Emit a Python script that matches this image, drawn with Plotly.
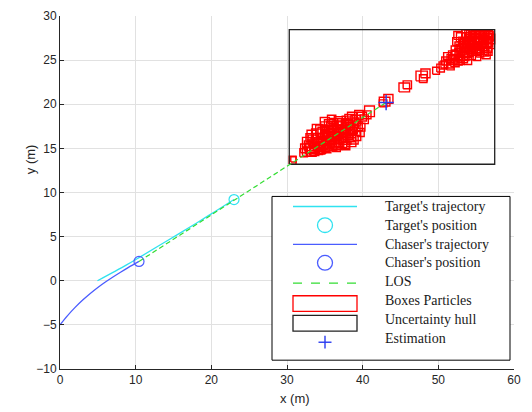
import plotly.graph_objects as go

# ---------------- data ----------------
target_x = [4.95, 8.8, 10.6, 14.0, 18.06, 20.5, 23.0]
target_y = [0.0, 1.8, 2.7, 4.45, 6.55, 7.85, 9.2]
target_pos = (23.0, 9.2)

chaser_x = [0.0, 1.0, 2.0, 3.0, 4.0, 5.0, 6.0, 7.0, 8.0, 9.0, 10.44]
chaser_y = [-5.0, -3.95, -3.02, -2.19, -1.44, -0.76, -0.14, 0.43, 0.97, 1.49, 2.19]
chaser_pos = (10.44, 2.19)

estimation = (43.1, 20.2)
los_x = [10.44, 43.1]
los_y = [2.19, 20.2]

box_cx = [30.75, 30.85, 32.6, 32.9, 33.2, 33.5, 33.7, 34.0, 34.1, 34.3, 34.6, 34.8, 34.9, 35.2, 35.3,
          35.5, 35.7, 35.9, 36.0, 36.2, 36.4, 36.6, 36.8, 37.0, 37.2, 37.4, 37.6, 37.9, 38.1, 38.3,
          38.5, 38.7, 39.1, 39.4, 39.7, 39.9, 33.0, 35.0, 36.5, 34.5,
          32.2, 32.4, 32.7, 33.1, 33.3, 33.6, 33.8, 34.0, 34.2, 34.4, 34.6, 34.8, 35.0, 35.2,
          35.4, 35.6, 35.8, 36.0, 36.2, 36.4, 36.6, 36.8, 37.0, 37.2, 37.4, 37.6, 37.8, 38.0,
          38.2, 38.4, 38.6, 38.8, 39.0, 39.2, 39.5, 39.8, 40.2, 37.8, 35.9, 34.2,
          33.2, 33.6, 34.0, 34.4, 34.8, 35.2, 35.6, 36.0, 36.4, 36.8, 37.2, 37.6, 38.0, 38.4,
          38.8, 35.0, 36.2, 37.4, 34.2, 35.8,
          40.9, 40.6, 42.9, 43.4, 42.7, 45.5, 45.9, 47.8, 48.3, 48.0, 49.7, 50.3, 50.8,
          51.4, 51.8, 52.2, 52.5, 52.8, 53.1, 53.4, 53.7, 53.9, 54.2, 54.4, 54.7, 54.9, 55.2,
          55.4, 55.7, 56.0, 56.2, 56.5, 56.8, 56.6, 56.1, 53.0, 52.4, 55.5, 53.6, 55.0,
          51.0, 51.6, 52.0, 52.3, 52.6, 52.9, 53.2, 53.4, 53.6, 53.8, 54.0, 54.2, 54.4, 54.6,
          54.8, 55.0, 55.2, 55.4, 55.6, 55.8, 56.0, 56.2, 56.4, 56.6, 56.8, 56.3, 55.1, 53.9,
          52.6, 54.1, 51.2, 50.6,
          52.0, 52.4, 52.8, 53.2, 53.6, 54.0, 54.4, 54.8, 55.2, 55.6, 56.0, 56.4, 55.0, 55.8,
          54.6, 53.4, 56.6, 55.4]
box_cy = [13.65, 13.75, 14.6, 15.3, 14.6, 15.9, 15.1, 16.6, 14.9, 15.6, 17.0, 16.1, 15.2, 17.4, 16.5,
          15.6, 17.7, 16.9, 15.3, 16.2, 17.8, 17.1, 15.8, 18.0, 17.0, 16.2, 15.5, 17.6, 16.6, 18.3,
          15.7, 17.2, 18.2, 17.5, 16.8, 18.6, 16.2, 18.0, 15.1, 14.8,
          14.5, 15.0, 15.7, 15.0, 16.5, 14.7, 15.6, 17.2, 16.0, 15.0, 15.5, 16.8, 15.7, 15.0,
          17.0, 16.2, 15.4, 17.4, 15.6, 16.6, 15.4, 17.5, 16.5, 15.7, 17.8, 16.9, 16.0, 18.1,
          17.3, 16.3, 18.6, 16.0, 17.0, 16.4, 18.8, 17.4, 18.3, 15.3, 18.3, 14.7,
          15.0, 14.9, 15.6, 15.3, 16.1, 15.8, 16.6, 16.1, 17.0, 16.6, 17.4, 16.9, 17.7, 17.1,
          17.9, 16.6, 17.3, 15.9, 15.2, 15.6,
          19.2, 18.8, 20.3, 20.6, 20.1, 21.9, 22.2, 23.2, 23.5, 22.9, 23.8, 24.1, 24.5,
          24.6, 25.1, 24.7, 25.6, 25.0, 26.2, 25.5, 26.8, 26.0, 27.3, 26.4, 27.7, 26.8, 27.7,
          26.9, 27.6, 26.6, 27.8, 27.1, 27.4, 26.0, 25.9, 27.6, 27.1, 25.8, 28.0, 28.0,
          24.9, 24.3, 25.5, 26.1, 24.9, 26.5, 25.2, 27.0, 25.9, 27.6, 26.6, 25.6, 27.9, 27.1,
          26.2, 27.3, 26.4, 28.0, 27.2, 26.2, 27.9, 27.0, 26.4, 27.7, 26.8, 25.6, 25.4, 24.9,
          27.8, 28.0, 25.4, 24.4,
          25.0, 25.4, 25.8, 26.0, 26.4, 26.9, 27.0, 27.4, 27.0, 27.6, 27.3, 27.5, 26.0, 26.6,
          26.0, 26.8, 27.9, 28.0]
box_w = [0.9, 0.7, 1.1, 1.2, 1.3, 1.4, 1.2, 1.5, 1.3, 1.4, 1.6, 1.3, 1.4, 1.5, 1.6,
         1.4, 1.5, 1.3, 1.2, 1.5, 1.6, 1.3, 1.4, 1.5, 1.5, 1.3, 1.2, 1.4, 1.3, 1.3,
         1.2, 1.2, 1.3, 1.1, 1.0, 1.2, 1.0, 1.2, 1.1, 1.0,
         1.0, 1.2, 1.3, 1.4, 1.3, 1.2, 1.5, 1.3, 1.6, 1.4, 1.5, 1.4, 1.6, 1.2,
         1.5, 1.6, 1.4, 1.5, 1.3, 1.6, 1.3, 1.5, 1.6, 1.4, 1.4, 1.5, 1.3, 1.4,
         1.5, 1.3, 1.2, 1.2, 1.3, 1.1, 1.1, 1.0, 1.1, 1.0, 1.1, 1.0,
         1.4, 1.2, 1.4, 1.2, 1.4, 1.2, 1.4, 1.2, 1.4, 1.2, 1.4, 1.2, 1.4, 1.2,
         1.3, 1.1, 1.1, 1.1, 1.2, 1.0,
         1.3, 1.0, 1.4, 1.2, 1.0, 1.4, 1.1, 1.5, 1.2, 1.0, 0.9, 1.0, 0.9,
         1.2, 1.3, 1.1, 1.4, 1.2, 1.5, 1.3, 1.6, 1.4, 1.5, 1.6, 1.4, 1.5, 1.6,
         1.3, 1.4, 1.3, 1.2, 1.3, 1.3, 1.0, 1.1, 1.2, 1.0, 1.0, 1.0, 1.2,
         1.1, 1.0, 1.3, 1.2, 1.1, 1.4, 1.3, 1.4, 1.5, 1.3, 1.6, 1.4, 1.3, 1.5,
         1.6, 1.5, 1.4, 1.3, 1.6, 1.3, 1.2, 1.5, 1.3, 1.3, 1.2, 1.1, 1.0, 1.0,
         1.1, 1.2, 1.0, 1.0,
         1.2, 1.4, 1.2, 1.4, 1.2, 1.4, 1.2, 1.4, 1.2, 1.4, 1.2, 1.3, 1.1, 1.2,
         1.1, 1.2, 1.1, 1.1]
box_h = [0.9, 0.6, 1.0, 1.1, 1.0, 1.2, 1.1, 1.2, 1.0, 1.2, 1.3, 1.1, 1.1, 1.2, 1.3,
         1.2, 1.1, 1.2, 1.0, 1.3, 1.2, 1.1, 1.2, 1.2, 1.3, 1.1, 1.1, 1.1, 1.2, 1.1,
         1.0, 1.1, 1.1, 1.0, 0.9, 1.0, 0.9, 1.0, 0.9, 0.9,
         0.9, 1.0, 1.1, 1.2, 1.1, 1.0, 1.2, 1.0, 1.3, 1.1, 1.3, 1.2, 1.3, 1.0,
         1.2, 1.4, 1.2, 1.3, 1.1, 1.3, 1.1, 1.2, 1.3, 1.2, 1.1, 1.3, 1.1, 1.1,
         1.2, 1.1, 1.0, 1.0, 1.1, 1.0, 1.0, 0.9, 1.0, 0.9, 0.9, 0.8,
         1.2, 1.0, 1.2, 1.0, 1.2, 1.0, 1.2, 1.0, 1.2, 1.0, 1.2, 1.0, 1.2, 1.0,
         1.1, 0.9, 0.9, 0.9, 1.0, 0.9,
         1.2, 0.9, 1.0, 1.0, 0.8, 1.0, 0.9, 1.1, 1.0, 0.9, 0.8, 0.9, 0.8,
         1.0, 1.1, 0.9, 1.1, 1.0, 1.2, 1.1, 1.3, 1.2, 1.2, 1.3, 1.1, 1.2, 1.2,
         1.1, 1.2, 1.1, 1.0, 1.1, 1.1, 0.9, 0.9, 1.0, 0.9, 0.9, 0.9, 0.9,
         0.9, 0.8, 1.1, 1.0, 0.9, 1.1, 1.0, 1.2, 1.2, 1.0, 1.3, 1.1, 1.0, 1.2,
         1.3, 1.2, 1.2, 0.9, 1.3, 1.1, 1.0, 1.2, 1.1, 1.1, 1.0, 0.9, 0.9, 0.8,
         0.9, 0.9, 0.9, 0.8,
         1.0, 1.2, 1.0, 1.2, 1.0, 1.2, 1.0, 1.2, 1.0, 1.2, 1.0, 1.1, 0.9, 1.0,
         0.9, 1.0, 0.9, 0.8]

x_ticks = [0, 10, 20, 30, 40, 50, 60]
y_ticks = [-10, -5, 0, 5, 10, 15, 20, 25, 30]

legend_labels = ["Target's trajectory", "Target's position", "Chaser's trajectory",
                 "Chaser's position", "LOS", "Boxes Particles", "Uncertainty hull", "Estimation"]

# ---------------- styles ----------------
C_TARGET = "#2fe2f0"
C_CHASER = "#4a5cff"
C_LOS = "#33dd33"
C_BOX = "#ff0000"
C_HULL = "#222222"
C_EST = "#2a3cf0"
AX = "#262626"

# build rectangles from box arrays
bx, by = [], []
for cx, cy, w, h in zip(box_cx, box_cy, box_w, box_h):
    x0, x1 = cx - w / 2, cx + w / 2
    y0, y1 = cy - h / 2, cy + h / 2
    bx += [x0, x1, x1, x0, x0, None]
    by += [y0, y0, y1, y1, y0, None]

hx0 = min(c - w / 2 for c, w in zip(box_cx, box_w))
hx1 = max(c + w / 2 for c, w in zip(box_cx, box_w))
hy0 = min(c - h / 2 for c, h in zip(box_cy, box_h))
hy1 = max(c + h / 2 for c, h in zip(box_cy, box_h))

fig = go.Figure()
fig.add_trace(go.Scatter(x=bx, y=by, mode="lines", line=dict(color=C_BOX, width=1.4),
                         name=legend_labels[5], showlegend=False))
fig.add_trace(go.Scatter(x=[hx0, hx1, hx1, hx0, hx0], y=[hy0, hy0, hy1, hy1, hy0], mode="lines",
                         line=dict(color=C_HULL, width=1.3), name=legend_labels[6], showlegend=False))
fig.add_trace(go.Scatter(x=target_x, y=target_y, mode="lines",
                         line=dict(color=C_TARGET, width=1.3, shape="spline"),
                         name=legend_labels[0], showlegend=False))
fig.add_trace(go.Scatter(x=chaser_x, y=chaser_y, mode="lines",
                         line=dict(color=C_CHASER, width=1.3, shape="spline", smoothing=1.0),
                         name=legend_labels[2], showlegend=False))
fig.add_trace(go.Scatter(x=[target_pos[0]], y=[target_pos[1]], mode="markers",
                         marker=dict(symbol="circle-open", size=10, color=C_TARGET, line=dict(width=1.2)),
                         name=legend_labels[1], showlegend=False))
fig.add_trace(go.Scatter(x=[chaser_pos[0]], y=[chaser_pos[1]], mode="markers",
                         marker=dict(symbol="circle-open", size=10, color=C_CHASER, line=dict(width=1.2)),
                         name=legend_labels[3], showlegend=False))
fig.add_trace(go.Scatter(x=los_x, y=los_y, mode="lines", line=dict(color=C_LOS, width=1.2, dash="5px,3px"),
                         name=legend_labels[4], showlegend=False))
fig.add_trace(go.Scatter(x=[estimation[0]], y=[estimation[1]], mode="markers",
                         marker=dict(symbol="cross-thin-open", size=11, color=C_EST,
                                     line=dict(width=1.5, color=C_EST)),
                         name=legend_labels[7], showlegend=False))

# ---------------- layout ----------------
L, T, W, H = 60, 9, 454, 360


def px(x):
    return (x - L) / W


def py(y):
    return (T + H - y) / H


axis_common = dict(showgrid=True, gridcolor="#e1e1e1", gridwidth=1, zeroline=False,
                   showline=True, linecolor=AX, linewidth=1, ticks="inside", ticklen=4,
                   tickcolor=AX, tickfont=dict(family="Liberation Sans, Arial", size=12, color=AX),
                   mirror=False)

fig.update_layout(
    width=532, height=412,
    margin=dict(l=L, r=532 - L - W, t=T, b=412 - T - H),
    paper_bgcolor="white", plot_bgcolor="white",
    showlegend=False,
    xaxis=dict(range=[0, 60], tickvals=x_ticks, **axis_common),
    yaxis=dict(range=[-10, 30], tickvals=y_ticks, **axis_common),
)

# axis titles
fig.add_annotation(text="x (m)", xref="paper", yref="paper", x=px(295), y=py(399),
                   xanchor="center", yanchor="middle",
                   showarrow=False, font=dict(family="Liberation Sans, Arial", size=13, color=AX))
fig.add_annotation(text="y (m)", xref="paper", yref="paper", x=px(30), y=py(155), textangle=-90,
                   xanchor="center", yanchor="middle",
                   showarrow=False, font=dict(family="Liberation Sans, Arial", size=13, color=AX))

# ---------------- legend (MATLAB-style box) ----------------
shapes = []
shapes.append(dict(type="rect", xref="paper", yref="paper", x0=px(272), x1=px(510), y0=py(360), y1=py(193),
                   line=dict(color="black", width=1), fillcolor="white", layer="above"))
text_rows = [203.3, 222.3, 241.7, 260.7, 279.3, 299.3, 318.3, 337.7]
sx0, sx1, scx = 293, 357, 325
for yy, col, dash in [(203.3, C_TARGET, "solid"), (242.0, C_CHASER, "solid"), (281.5, C_LOS, "dash")]:
    shapes.append(dict(type="line", xref="paper", yref="paper", x0=px(sx0), x1=px(sx1), y0=py(yy), y1=py(yy),
                       line=dict(color=col, width=1.3, dash=dash), layer="above"))
for yy, col in [(222.3, C_TARGET), (260.7, C_CHASER)]:
    r = 7.5
    shapes.append(dict(type="circle", xref="paper", yref="paper", x0=px(scx - r), x1=px(scx + r),
                       y0=py(yy + r), y1=py(yy - r), line=dict(color=col, width=1.3), layer="above"))
shapes.append(dict(type="rect", xref="paper", yref="paper", x0=px(sx0), x1=px(sx1), y0=py(310.3), y1=py(294.3),
                   line=dict(color=C_BOX, width=1.3), fillcolor="white", layer="above"))
shapes.append(dict(type="rect", xref="paper", yref="paper", x0=px(sx0), x1=px(sx1), y0=py(330.3), y1=py(314.3),
                   line=dict(color=C_HULL, width=1.3), fillcolor="white", layer="above"))
shapes.append(dict(type="line", xref="paper", yref="paper", x0=px(scx - 6.5), x1=px(scx + 6.5),
                   y0=py(341.7), y1=py(341.7), line=dict(color=C_EST, width=1.4), layer="above"))
shapes.append(dict(type="line", xref="paper", yref="paper", x0=px(scx), x1=px(scx),
                   y0=py(348.2), y1=py(335.2), line=dict(color=C_EST, width=1.4), layer="above"))
fig.update_layout(shapes=shapes)

for lbl, yy in zip(legend_labels, text_rows):
    fig.add_annotation(text=lbl, xref="paper", yref="paper", x=px(383), y=py(yy), xanchor="left",
                       yanchor="middle", showarrow=False,
                       font=dict(family="Liberation Serif, Times New Roman, serif", size=14, color="#1a1a1a"))

fig.write_html("out.html")
